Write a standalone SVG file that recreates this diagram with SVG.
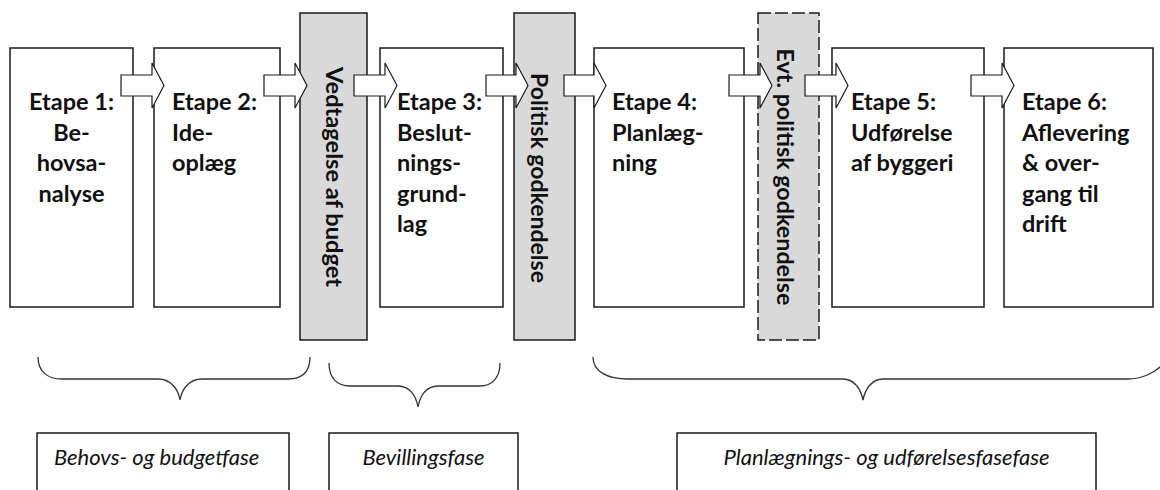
<svg xmlns="http://www.w3.org/2000/svg" width="1160" height="490" viewBox="0 0 1160 490">
<style>
.box{fill:#fff;stroke:#1a1a1a;stroke-width:1.5}
.bar{fill:#d9d9d9;stroke:#1a1a1a;stroke-width:1.5}
.dash{stroke-dasharray:13 4}
.arr{fill:#fff;stroke:#1a1a1a;stroke-width:1.2;stroke-linejoin:miter}
.t{font-family:Lato,"Open Sans","Noto Sans",sans-serif;font-weight:bold;font-size:23.5px;fill:#111}
.c{text-anchor:middle}
.v{font-family:Lato,"Open Sans","Noto Sans",sans-serif;font-weight:bold;font-size:23px;fill:#111;text-anchor:middle}
.i{font-family:Lato,"Open Sans","Noto Sans",sans-serif;font-style:italic;font-size:22px;fill:#111}
.br{fill:none;stroke:#333;stroke-width:1.3}
</style>
<rect width="1160" height="490" fill="#fff"/>
<g id="etape1"><rect class="box" x="10" y="48" width="123" height="259"/>
<text class="t c" x="71.5" y="110">Etape 1:</text><text class="t c" x="71.5" y="140.5">Be-</text><text class="t c" x="71.5" y="171">hovsa-</text><text class="t c" x="71.5" y="201.5">nalyse</text></g>
<g id="etape2"><rect class="box" x="154" y="48" width="126" height="259"/>
<text class="t" x="172" y="110">Etape 2:</text><text class="t" x="172" y="140.5">Ide-</text><text class="t" x="172" y="171">oplæg</text></g>
<g id="vedtagelse"><rect class="bar" x="300" y="13" width="67" height="327"/>
<text class="v" transform="translate(326,177) rotate(90)" textLength="220" lengthAdjust="spacingAndGlyphs">Vedtagelse af budget</text></g>
<g id="etape3"><rect class="box" x="380" y="48" width="123" height="259"/>
<text class="t" x="397" y="110">Etape 3:</text><text class="t" x="397" y="140.5">Beslut-</text><text class="t" x="397" y="171">nings-</text><text class="t" x="397" y="201.5">grund-</text><text class="t" x="397" y="232">lag</text></g>
<g id="politisk"><rect class="bar" x="514" y="13" width="61" height="327"/>
<text class="v" transform="translate(531,178) rotate(90)" textLength="210" lengthAdjust="spacingAndGlyphs">Politisk godkendelse</text></g>
<g id="etape4"><rect class="box" x="594" y="48" width="150" height="259"/>
<text class="t" x="612" y="110">Etape 4:</text><text class="t" x="612" y="140.5">Planlæg-</text><text class="t" x="612" y="171">ning</text></g>
<g id="evt"><rect class="bar dash" x="758" y="13" width="61" height="327"/>
<text class="v" transform="translate(777,177) rotate(90)" textLength="257" lengthAdjust="spacingAndGlyphs">Evt. politisk godkendelse</text></g>
<g id="etape5"><rect class="box" x="832" y="48" width="152" height="259"/>
<text class="t" x="851" y="110">Etape 5:</text><text class="t" x="851" y="140.5">Udførelse</text><text class="t" x="851" y="171">af byggeri</text></g>
<g id="etape6"><rect class="box" x="1004" y="48" width="149" height="259"/>
<text class="t" x="1022" y="110">Etape 6:</text><text class="t" x="1022" y="140.5">Aflevering</text><text class="t" x="1022" y="171">&amp; over-</text><text class="t" x="1022" y="201.5">gang til</text><text class="t" x="1022" y="232">drift</text></g>
<g id="connectors">
<path class="arr" d="M121,75 H152 V63 L164,85.5 L152,108 V96 H121 Z"/>
<path class="arr" d="M264,75 H295 V63 L307,85.5 L295,108 V96 H264 Z"/>
<path class="arr" d="M354,75 H385 V63 L397,85.5 L385,108 V96 H354 Z"/>
<path class="arr" d="M486,75 H516 V63 L528,85.5 L516,108 V96 H486 Z"/>
<path class="arr" d="M564,75 H594 V63 L606,85.5 L594,108 V96 H564 Z"/>
<path class="arr" d="M729,75 H760 V63 L772,85.5 L760,108 V96 H729 Z"/>
<path class="arr" d="M805,75 H836 V63 L848,85.5 L836,108 V96 H805 Z"/>
<path class="arr" d="M971,75 H1002 V63 L1014,85.5 L1002,108 V96 H971 Z"/>
</g>
<g id="braces">
<path class="br" d="M38,357 C38,372 48,379 62,379 H158 C170,379 178,388 180,400 C182,388 190,379 202,379 H288 C302,379 310,372 310,357"/>
<path class="br" d="M329,363 C329,378 337,386 350,386 H398 C410,386 416,396 418,407 C420,396 426,386 438,386 H480 C492,386 500,378 500,363"/>
<path class="br" d="M593,357 C593,372 608,379 628,379 H843 C855,379 861,390 863,400 C865,390 871,379 883,379 H1128 C1140,379 1155,374 1165,362"/>
</g>
<g id="fase1"><rect class="box" x="37" y="433" width="252" height="80"/><text class="i" x="54" y="465">Behovs- og budgetfase</text></g>
<g id="fase2"><rect class="box" x="329" y="433" width="189" height="80"/><text class="i c" x="423.5" y="465">Bevillingsfase</text></g>
<g id="fase3"><rect class="box" x="677" y="433" width="419" height="80"/><text class="i c" x="886.5" y="465">Planlægnings- og udførelsesfasefase</text></g>
</svg>
